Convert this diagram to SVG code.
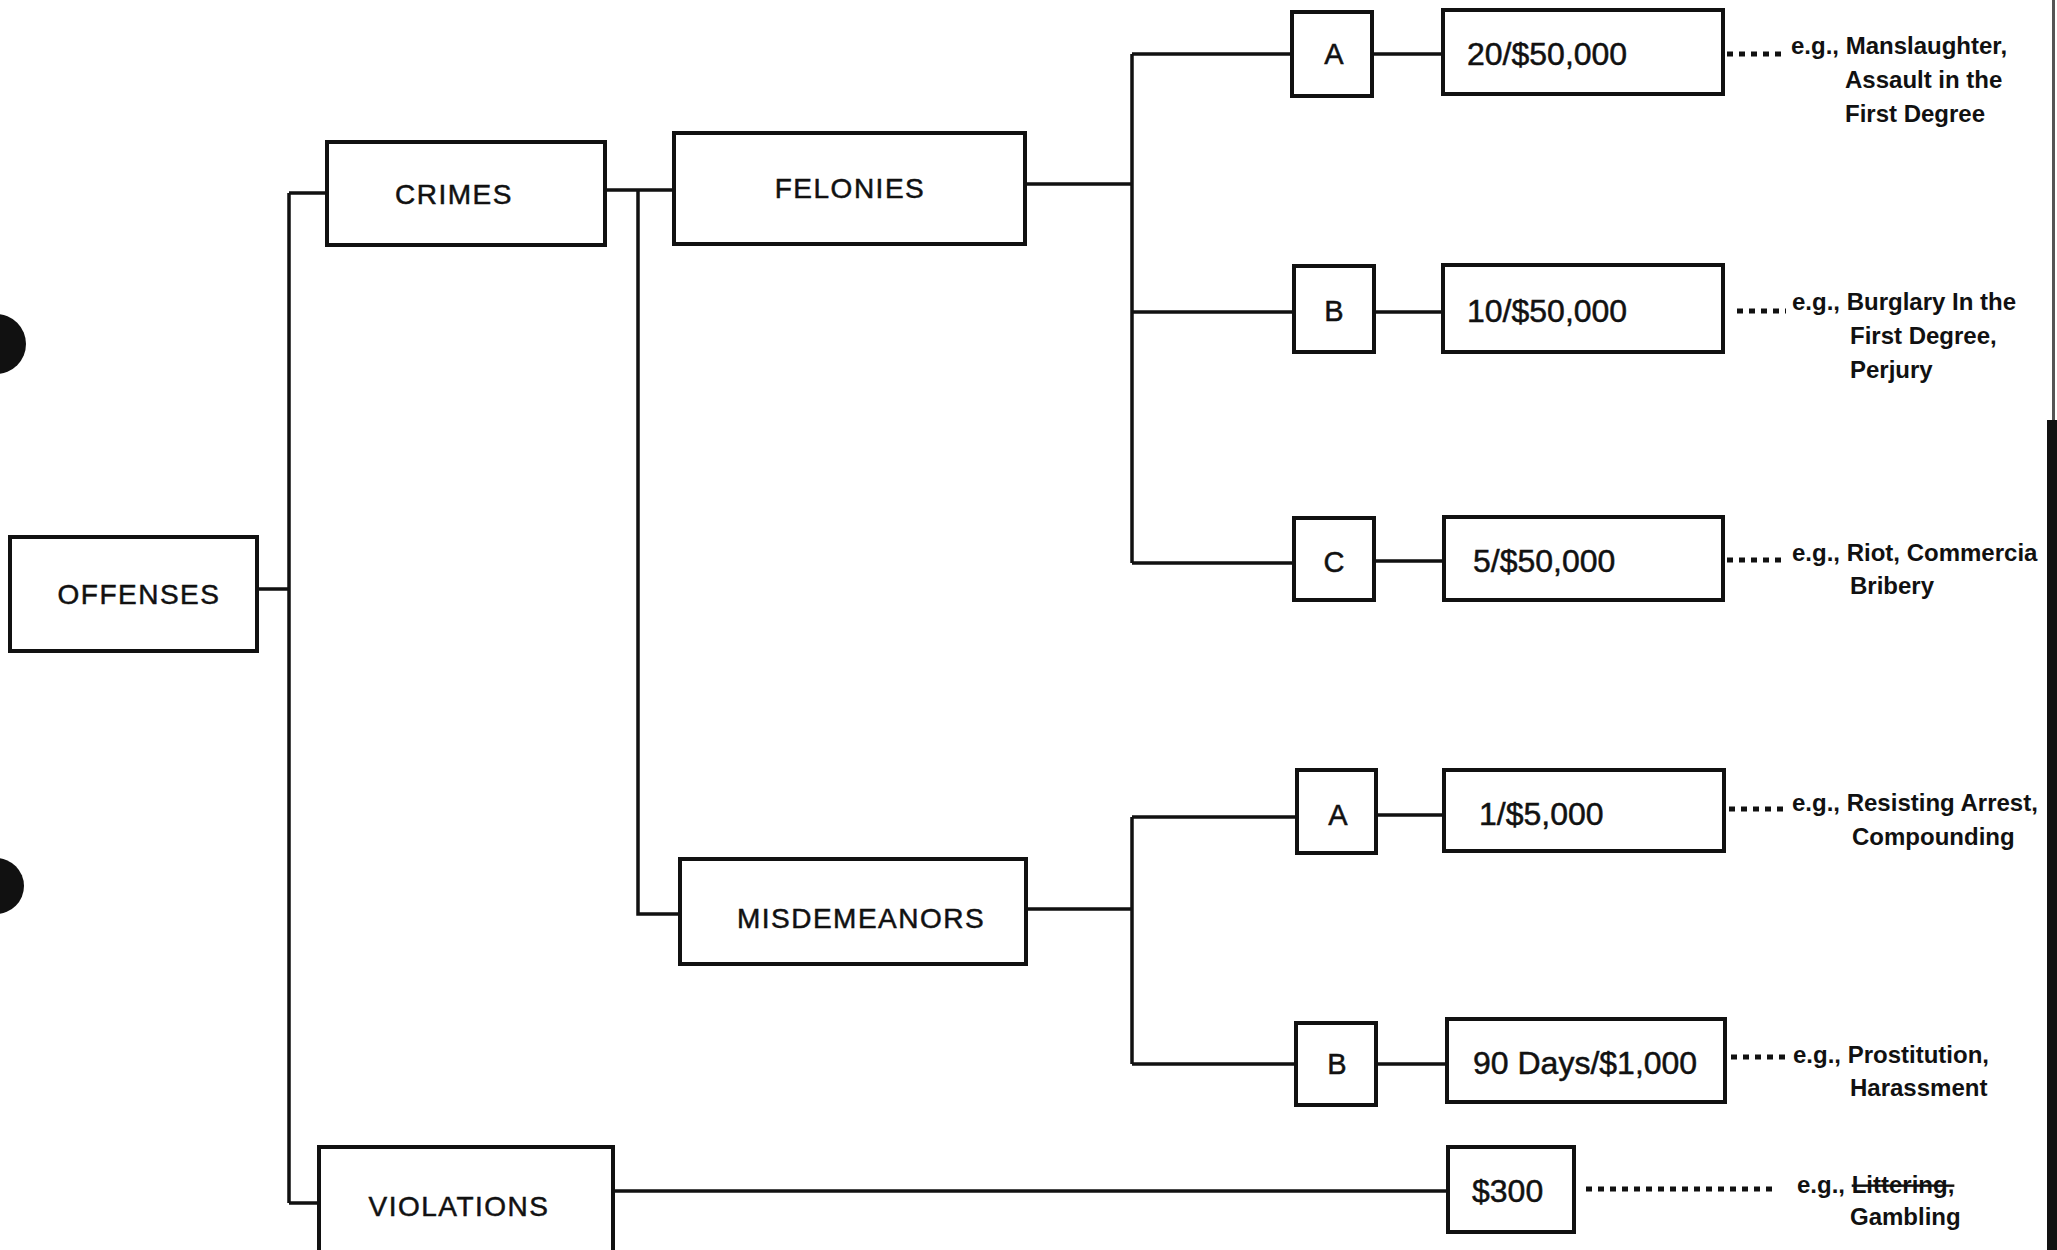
<svg xmlns="http://www.w3.org/2000/svg" width="2057" height="1250" viewBox="0 0 2057 1250">
<style>
.box{fill:#fff;stroke:#111;stroke-width:4}
.lbl{font-family:'Liberation Sans',Arial,sans-serif;font-size:28px;fill:#111;letter-spacing:1.5px;stroke:#111;stroke-width:0.5}
.num{font-family:'Liberation Sans',Arial,sans-serif;font-size:32px;fill:#111;stroke:#111;stroke-width:0.5}
.ltr{font-family:'Liberation Sans',Arial,sans-serif;font-size:29px;fill:#111;text-anchor:middle;stroke:#111;stroke-width:0.5}
.con{stroke:#111;stroke-width:3.5;fill:none}
.dot{stroke:#111;stroke-width:5;stroke-dasharray:6 6;fill:none}
.ex{font-family:'Liberation Sans',Arial,sans-serif;font-weight:bold;font-size:24px;fill:#111}
</style>
<rect width="2057" height="1250" fill="#fff"/>
<g id="connectors">
<path class="con" d="M257,589H289M289,193V1203M289,193H327M289,1203H319"/>
<path class="con" d="M605,190H674M638,190V914H680"/>
<path class="con" d="M1025,184H1132M1132,54V563M1132,54H1292M1132,312H1294M1132,563H1294"/>
<path class="con" d="M1372,54H1443M1374,312H1443M1374,561H1444"/>
<path class="con" d="M1026,909H1132M1132,817V1064M1132,817H1297M1132,1064H1296"/>
<path class="con" d="M1376,815H1444M1376,1064H1447"/>
<path class="con" d="M613,1191H1448"/>
<path class="dot" d="M1727,54H1787M1737,311H1786M1727,560H1786M1729,809H1786M1731,1057H1790M1586,1189H1778"/>
</g>
<g id="offenses"><rect class="box" x="10" y="537" width="247" height="114"/><text class="lbl" x="139" y="604" text-anchor="middle">OFFENSES</text></g>
<g id="crimes"><rect class="box" x="327" y="142" width="278" height="103"/><text class="lbl" x="454" y="204" text-anchor="middle">CRIMES</text></g>
<g id="violations"><rect class="box" x="319" y="1147" width="294" height="110"/><text class="lbl" x="459" y="1216" text-anchor="middle">VIOLATIONS</text></g>
<g id="felonies"><rect class="box" x="674" y="133" width="351" height="111"/><text class="lbl" x="850" y="198" text-anchor="middle">FELONIES</text></g>
<g id="misdemeanors"><rect class="box" x="680" y="859" width="346" height="105"/><text class="lbl" x="861" y="928" text-anchor="middle">MISDEMEANORS</text></g>
<g id="felony-a"><rect class="box" x="1292" y="12" width="80" height="84"/><text class="ltr" x="1334" y="64">A</text></g>
<g id="felony-a-penalty"><rect class="box" x="1443" y="10" width="280" height="84"/><text class="num" x="1467" y="65">20/$50,000</text></g>
<g id="felony-b"><rect class="box" x="1294" y="266" width="80" height="86"/><text class="ltr" x="1334" y="321">B</text></g>
<g id="felony-b-penalty"><rect class="box" x="1443" y="265" width="280" height="87"/><text class="num" x="1467" y="322">10/$50,000</text></g>
<g id="felony-c"><rect class="box" x="1294" y="518" width="80" height="82"/><text class="ltr" x="1334" y="572">C</text></g>
<g id="felony-c-penalty"><rect class="box" x="1444" y="517" width="279" height="83"/><text class="num" x="1473" y="572">5/$50,000</text></g>
<g id="misd-a"><rect class="box" x="1297" y="770" width="79" height="83"/><text class="ltr" x="1338" y="825">A</text></g>
<g id="misd-a-penalty"><rect class="box" x="1444" y="770" width="280" height="81"/><text class="num" x="1479" y="825">1/$5,000</text></g>
<g id="misd-b"><rect class="box" x="1296" y="1023" width="80" height="82"/><text class="ltr" x="1337" y="1074">B</text></g>
<g id="misd-b-penalty"><rect class="box" x="1447" y="1019" width="278" height="83"/><text class="num" x="1473" y="1074">90 Days/$1,000</text></g>
<g id="violation-penalty"><rect class="box" x="1448" y="1147" width="126" height="85"/><text class="num" x="1472" y="1202">$300</text></g>
<g id="examples">
<text class="ex"><tspan x="1791" y="54">e.g., Manslaughter,</tspan><tspan x="1845" y="88">Assault in the</tspan><tspan x="1845" y="122">First Degree</tspan></text>
<text class="ex"><tspan x="1792" y="310">e.g., Burglary In the</tspan><tspan x="1850" y="344">First Degree,</tspan><tspan x="1850" y="378">Perjury</tspan></text>
<text class="ex"><tspan x="1792" y="561">e.g., Riot, Commercia</tspan><tspan x="1850" y="594">Bribery</tspan></text>
<text class="ex"><tspan x="1792" y="811">e.g., Resisting Arrest,</tspan><tspan x="1852" y="845">Compounding</tspan></text>
<text class="ex"><tspan x="1793" y="1063">e.g., Prostitution,</tspan><tspan x="1850" y="1096">Harassment</tspan></text>
<text class="ex"><tspan x="1797" y="1193">e.g., <tspan text-decoration="line-through">Littering,</tspan></tspan><tspan x="1850" y="1225">Gambling</tspan></text>
</g>
<g id="scan-marks" fill="#111">
<circle cx="-4" cy="344" r="30"/>
<circle cx="-4" cy="886" r="28"/>
<rect x="2047" y="420" width="10" height="830"/>
<rect x="2052" y="0" width="3" height="420" fill="#555"/>
</g>
</svg>
